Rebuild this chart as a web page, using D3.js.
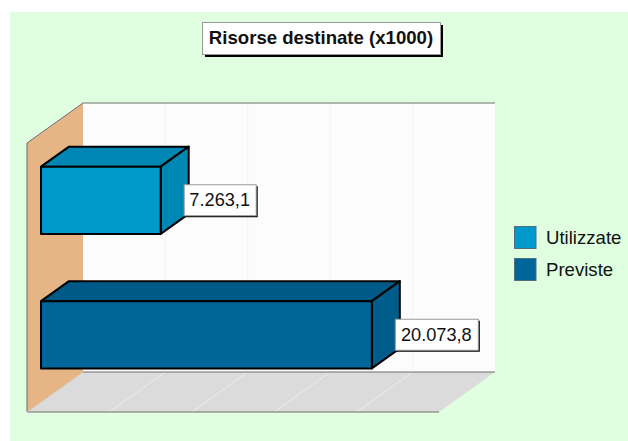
<!DOCTYPE html>
<html>
<head>
    <meta charset="utf-8">
    <style>
        html, body { margin: 0; padding: 0; background: #fff; }
        svg { display: block; }
        text { font-family: "Liberation Sans", Arial, sans-serif; fill: #111; }
        .face { stroke: #000; stroke-width: 2px; stroke-linejoin: round; }
    </style>
</head>
<body>
<div id="chart"></div>
<script src="https://cdn.jsdelivr.net/npm/d3@7/dist/d3.min.js"></script>
<script>
    var categories = ["Utilizzate", "Previste"];
    var values = [7263.1, 20073.8];
    var valueLabels = ["7.263,1", "20.073,8"];
    var ticks = [0, 5000, 10000, 15000, 20000, 25000];
    var colors = ["#0099cc", "#006699"];
    var topColors = ["#0086b3", "#005a87"];
    var sideColors = ["#0088b5", "#005c8a"];
    var title = "Risorse destinate (x1000)";

    var width = 628, height = 441;

    // plot box: front plane and the offset of the back wall
    var plotLeft = 27, plotRight = 439, plotTop = 143, plotBottom = 412;
    var dx = 56, dy = -40;
    // bars sit a quarter of the way into the depth and are half of it deep
    var barShiftX = 14, barShiftY = -10, barDx = 28, barDy = -20;

    var x = d3.scaleLinear().domain([0, 25000]).range([plotLeft, plotRight]);
    var y = d3.scaleBand().domain(categories)
        .range([plotTop + barShiftY, plotBottom + barShiftY])
        .paddingInner(0.5).paddingOuter(0.25);

    function pts(a) {
        return a.map(function (p) { return p.join(","); }).join(" ");
    }

    var svg = d3.select("#chart").append("svg")
        .attr("width", width)
        .attr("height", height);

    svg.append("rect")
        .attr("x", 10).attr("y", 12)
        .attr("width", width - 10).attr("height", height - 12)
        .attr("fill", "#e0ffe0");

    // back wall
    svg.append("rect")
        .attr("x", plotLeft + dx).attr("y", plotTop + dy)
        .attr("width", plotRight - plotLeft).attr("height", plotBottom - plotTop)
        .attr("fill", "#fcfcfc");

    // floor
    svg.append("polygon")
        .attr("points", pts([[plotLeft, plotBottom], [plotLeft + dx, plotBottom + dy], [plotRight + dx, plotBottom + dy], [plotRight, plotBottom]]))
        .attr("fill", "#dbdbdb");

    // grid on wall and floor
    var inner = ticks.slice(1, -1);
    svg.selectAll("line.wallgrid").data(inner).enter().append("line")
        .attr("class", "wallgrid")
        .attr("x1", function (d) { return x(d) + dx; })
        .attr("x2", function (d) { return x(d) + dx; })
        .attr("y1", plotTop + dy)
        .attr("y2", plotBottom + dy)
        .attr("stroke", "#eef8ee");
    svg.selectAll("line.floorgrid").data(ticks.slice(1, -1)).enter().append("line")
        .attr("class", "floorgrid")
        .attr("x1", function (d) { return x(d); })
        .attr("x2", function (d) { return x(d) + dx; })
        .attr("y1", plotBottom)
        .attr("y2", plotBottom + dy)
        .attr("stroke", "#eeeeee");

    // left wall
    svg.append("polygon")
        .attr("points", pts([[plotLeft, plotTop], [plotLeft + dx, plotTop + dy], [plotLeft + dx, plotBottom + dy], [plotLeft, plotBottom]]))
        .attr("fill", "#e5b585");

    // frame lines
    var frame = "#6f6f6f";
    svg.append("polyline")
        .attr("points", pts([[plotLeft, plotBottom], [plotLeft, plotTop], [plotLeft + dx, plotTop + dy], [plotRight + dx, plotTop + dy]]))
        .attr("fill", "none").attr("stroke", frame);
    svg.append("polyline")
        .attr("points", pts([[plotLeft, plotBottom], [plotRight, plotBottom]]))
        .attr("fill", "none").attr("stroke", frame).attr("stroke-width", 1.2);
    svg.append("line")
        .attr("x1", plotLeft + dx).attr("x2", plotRight + dx)
        .attr("y1", plotBottom + dy).attr("y2", plotBottom + dy)
        .attr("stroke", frame);
    svg.append("line")
        .attr("x1", plotLeft).attr("x2", plotLeft + dx)
        .attr("y1", plotBottom).attr("y2", plotBottom + dy)
        .attr("stroke", "#d9c3a8");

    // bars
    var bars = svg.selectAll("g.bar").data(categories).enter().append("g").attr("class", "bar");
    bars.each(function (c, i) {
        var g = d3.select(this);
        var x0 = x(0) + barShiftX, x1 = x(values[i]) + barShiftX;
        var y0 = y(c), y1 = y(c) + y.bandwidth();
        g.append("polygon").attr("class", "face").attr("fill", topColors[i])
            .attr("points", pts([[x0, y0], [x0 + barDx, y0 + barDy], [x1 + barDx, y0 + barDy], [x1, y0]]));
        g.append("polygon").attr("class", "face").attr("fill", sideColors[i])
            .attr("points", pts([[x1, y0], [x1 + barDx, y0 + barDy], [x1 + barDx, y1 + barDy], [x1, y1]]));
        g.append("rect").attr("class", "face").attr("fill", colors[i])
            .attr("x", x0).attr("y", y0)
            .attr("width", x1 - x0).attr("height", y1 - y0);
    });

    function box(cx, cy, w, h, shadow) {
        svg.append("rect")
            .attr("x", cx + shadow).attr("y", cy + shadow)
            .attr("width", w).attr("height", h)
            .attr("fill", "#000");
        svg.append("rect")
            .attr("x", cx + 0.5).attr("y", cy + 0.5)
            .attr("width", w).attr("height", h)
            .attr("fill", "#fff")
            .attr("stroke", "#999");
    }

    // value labels
    var labelW = [72, 83];
    categories.forEach(function (c, i) {
        var lx = x(values[i]) + barShiftX + 23;
        var cy = y(c) + y.bandwidth() / 2;
        box(lx, cy - 16, labelW[i], 31, 2);
        svg.append("text")
            .attr("x", lx + labelW[i] / 2)
            .attr("y", cy + 6)
            .attr("text-anchor", "middle")
            .attr("font-size", "18.2px")
            .text(valueLabels[i]);
    });

    // title
    box(202, 22, 238, 32, 3);
    svg.append("text")
        .attr("x", 321).attr("y", 44)
        .attr("text-anchor", "middle")
        .attr("font-size", "18.6px")
        .attr("font-weight", "bold")
        .text(title);

    // legend
    var legend = d3.scaleBand().domain(categories).range([226, 290]);
    var items = svg.selectAll("g.legend").data(categories).enter().append("g").attr("class", "legend");
    items.append("rect")
        .attr("x", 514.5)
        .attr("y", function (d) { return legend(d) + 0.5; })
        .attr("width", 21.5).attr("height", 22)
        .attr("fill", function (d, i) { return colors[i]; })
        .attr("stroke", "#4f6f7f");
    items.append("text")
        .attr("x", 546)
        .attr("y", function (d) { return legend(d) + 18; })
        .attr("font-size", "18.6px")
        .text(function (d) { return d; });
</script>
</body>
</html>
